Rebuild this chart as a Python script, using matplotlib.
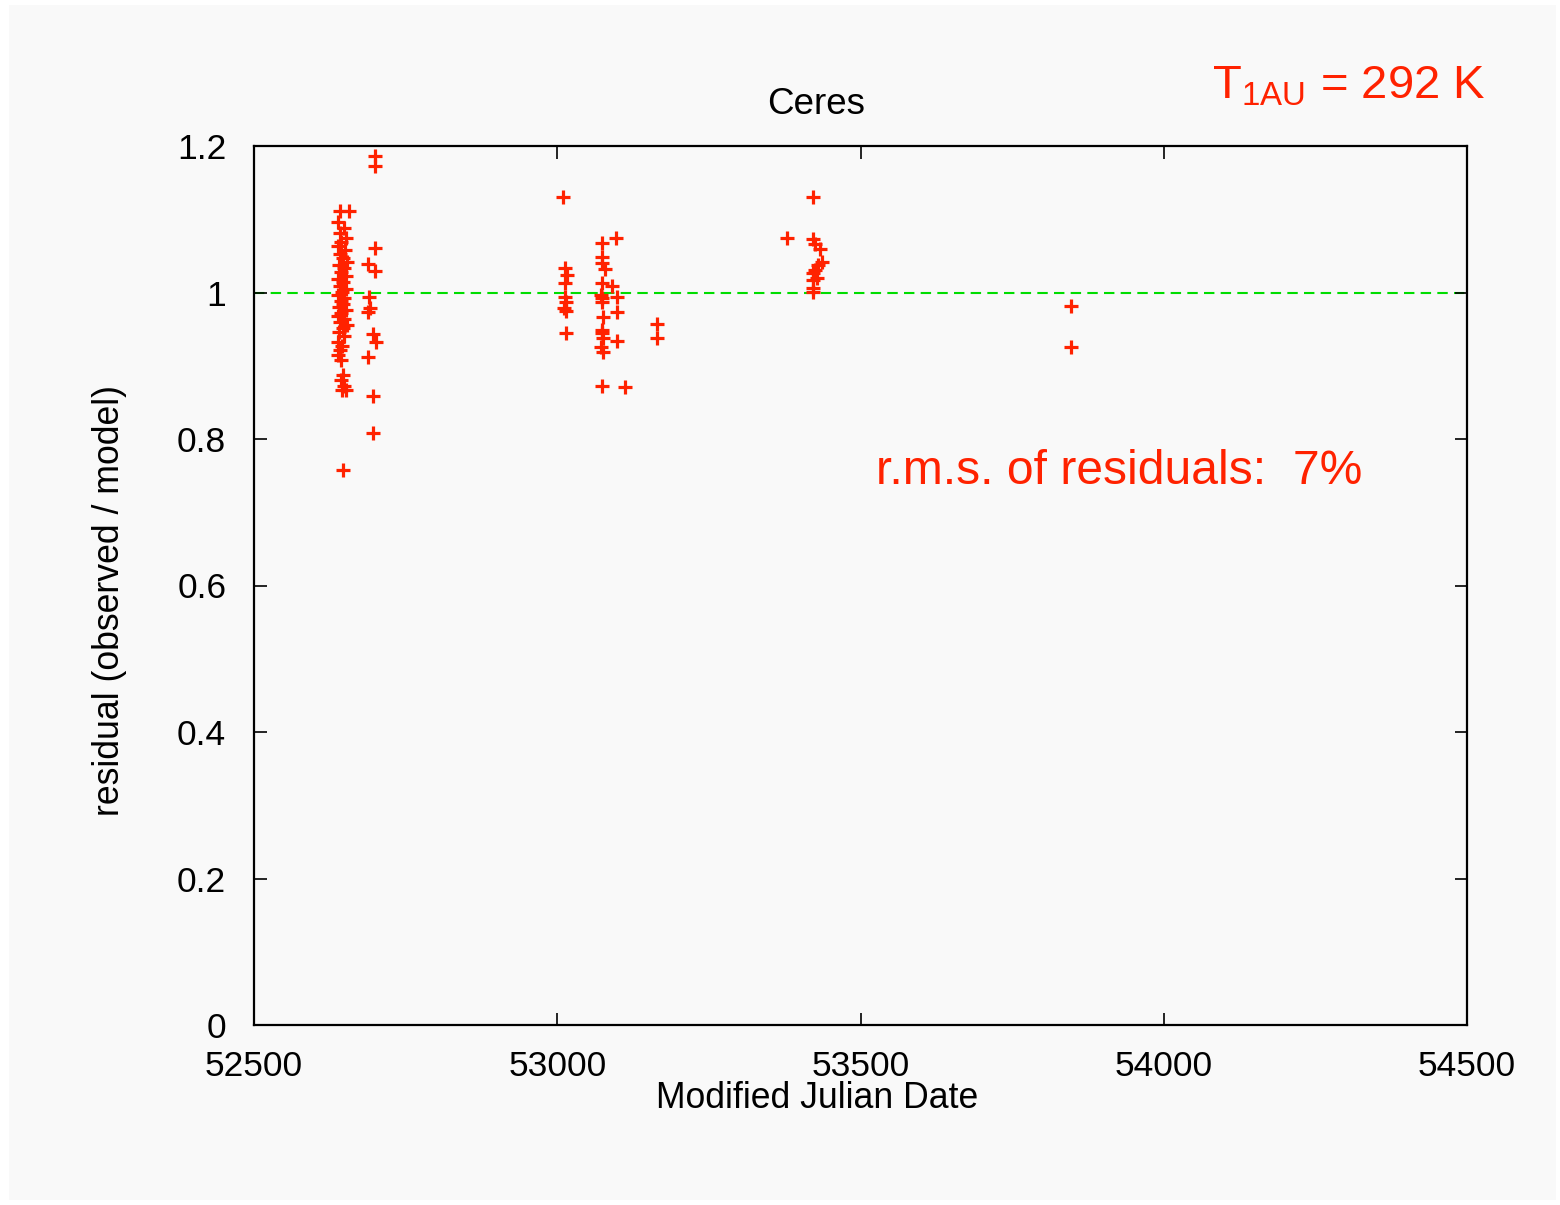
import matplotlib
matplotlib.use("Agg")
import matplotlib.pyplot as plt
from matplotlib.patches import Rectangle

plt.rcParams['font.family'] = ['Liberation Sans', 'DejaVu Sans']
plt.rcParams['mathtext.fontset'] = 'custom'
plt.rcParams['mathtext.rm'] = 'Liberation Sans'

# Ceres residuals (observed / model) by observing epoch
mjd = [
    # late 2002 / early 2003 apparition
    52641, 52656, 52639, 52648, 52641, 52652, 52644, 52638, 52650, 52642,
    52646, 52654, 52640, 52648, 52644, 52652, 52638, 52647, 52642, 52651,
    52645, 52639, 52649, 52643, 52647, 52640, 52652, 52644, 52638, 52649,
    52642, 52653, 52646, 52640, 52648, 52639, 52645, 52641, 52638, 52643,
    52646, 52644, 52648, 52645, 52651, 52647,
    52699, 52699, 52700, 52688, 52699, 52689, 52691, 52688, 52696, 52701,
    52688, 52696, 52696,
    # 2004 apparition
    53010, 53013, 53016, 53013, 53013, 53014, 53011, 53014, 53014,
    53074, 53074, 53074, 53079, 53074, 53072, 53074, 53074, 53075, 53074,
    53074, 53075, 53072, 53075, 53074, 53097, 53090, 53098, 53098, 53098,
    53112,
    53164, 53164,
    # 2005 apparition
    53379, 53422, 53422, 53425, 53433, 53437, 53430, 53425, 53422, 53428,
    53422, 53422, 53422,
    # 2006
    53847, 53847,
]
residual = [
    1.111, 1.111, 1.096, 1.088, 1.081, 1.074, 1.069, 1.063, 1.058, 1.053,
    1.047, 1.042, 1.038, 1.033, 1.028, 1.023, 1.018, 1.014, 1.009, 1.005,
    1.001, 0.997, 0.993, 0.988, 0.984, 0.980, 0.976, 0.972, 0.968, 0.964,
    0.960, 0.956, 0.952, 0.946, 0.941, 0.932, 0.927, 0.922, 0.915, 0.908,
    0.887, 0.881, 0.872, 0.867, 0.867, 0.758,
    1.186, 1.173, 1.061, 1.039, 1.029, 0.994, 0.979, 0.973, 0.943, 0.932,
    0.912, 0.859, 0.808,
    1.130, 1.033, 1.024, 1.013, 0.994, 0.987, 0.979, 0.975, 0.945,
    1.068, 1.048, 1.040, 1.032, 1.013, 0.997, 0.993, 0.987, 0.967, 0.949,
    0.945, 0.938, 0.926, 0.919, 0.872, 1.074, 1.009, 0.994, 0.973, 0.934,
    0.871,
    0.957, 0.938,
    1.074, 1.130, 1.073, 1.066, 1.059, 1.042, 1.038, 1.031, 1.027, 1.020,
    1.017, 1.006, 1.001,
    0.982, 0.926,
]

x_ticks = [52500, 53000, 53500, 54000, 54500]
y_ticks = [0, 0.2, 0.4, 0.6, 0.8, 1.0, 1.2]
y_tick_labels = ['0', '0.2', '0.4', '0.6', '0.8', '1', '1.2']

RED = '#ff2200'
BG = '#f9f9f9'
W, H = 1560, 1205

fig = plt.figure(figsize=(W / 100, H / 100), dpi=100, facecolor='white')
fig.patches.append(Rectangle((9 / W, 5 / H), (1556 - 9) / W, (1200 - 5) / H,
                             transform=fig.transFigure, facecolor=BG,
                             edgecolor='none', zorder=-10))

ax = fig.add_axes([254 / W, 1 - 1025 / H, (1467 - 254) / W, (1025 - 146) / H])
ax.set_facecolor(BG)

ax.axhline(1.0, color='#00dd00', lw=1.5, ls=(0, (5, 3)), zorder=1)
ax.plot(mjd, residual, ls='none', marker='+', color=RED, ms=10, mew=2.3, zorder=3)

ax.set_xlim(52500, 54500)
ax.set_ylim(0, 1.2)
ax.set_xticks(x_ticks)
ax.set_xticklabels([str(t) for t in x_ticks])
ax.set_yticks(y_ticks)
ax.set_yticklabels(y_tick_labels)
ax.tick_params(direction='in', length=9, width=1.2, top=True, right=True,
               labelsize=25.5, colors='black')
ax.tick_params(axis='x', pad=18)
ax.tick_params(axis='y', pad=20)
for s in ax.spines.values():
    s.set_linewidth(1.6)

def px(x, y):
    return x / W, 1 - y / H

fig.text(*px(816, 104), 'Ceres', fontsize=26.5, ha='center', va='center')
fig.text(*px(817, 1098), 'Modified Julian Date', fontsize=25.7, ha='center', va='center')
fig.text(*px(110, 600), 'residual (observed / model)', fontsize=25.7,
         rotation=90, ha='center', va='center')

fig.text(*px(1212, 98), r'T$_\mathrm{1AU}$ = 292 K', fontsize=34, color=RED,
         ha='left', va='baseline')
fig.text(*px(876, 484), 'r.m.s. of residuals:  7%', fontsize=34.6, color=RED,
         ha='left', va='baseline')

fig.savefig('out.png', dpi=100, facecolor=fig.get_facecolor())
